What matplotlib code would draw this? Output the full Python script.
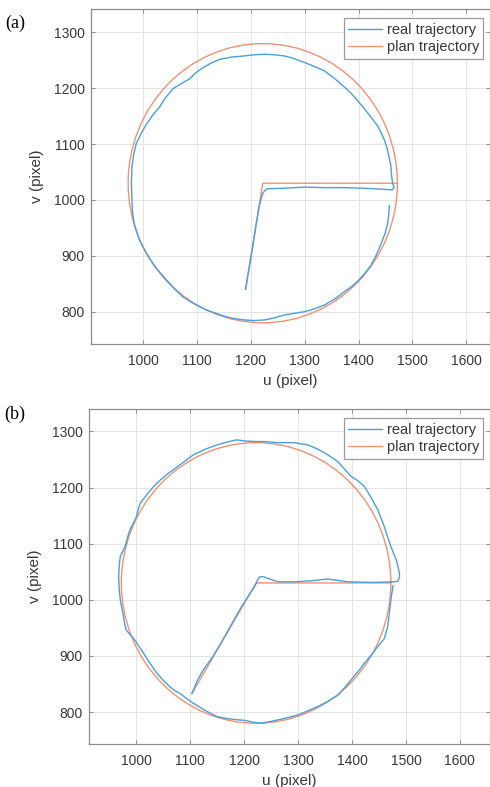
import matplotlib
matplotlib.use("Agg")
import matplotlib.pyplot as plt
from matplotlib.patches import Circle

# ---------------- data ----------------
# panel (a)
real_a_u = [1190, 1197, 1204, 1210, 1216, 1219, 1222, 1226, 1230, 1262, 1300, 1337, 1374, 1410,
            1448, 1462, 1466, 1463, 1461, 1460, 1457, 1453, 1448, 1442, 1435, 1423, 1411, 1398,
            1386, 1374, 1356, 1337, 1318, 1300, 1281, 1262, 1244, 1225, 1206, 1188, 1165, 1142,
            1126, 1111, 1098, 1086, 1070, 1055, 1042, 1030, 1017, 1006, 996, 987, 982, 979, 978,
            979, 980, 983, 993, 1005, 1018, 1030, 1043, 1058, 1073, 1089, 1104, 1120, 1135, 1150,
            1166, 1188, 1206, 1225, 1244, 1262, 1281, 1300, 1318, 1337, 1356, 1374, 1387, 1398,
            1411, 1423, 1433, 1442, 1449, 1454, 1456, 1457]
real_a_v = [840, 880, 920, 958, 992, 1002, 1012, 1017, 1020, 1021, 1023, 1022, 1022, 1021,
            1019, 1018, 1022, 1030, 1045, 1060, 1075, 1092, 1107, 1120, 1133, 1148, 1163, 1178,
            1191, 1202, 1217, 1231, 1239, 1246, 1253, 1258, 1260, 1261, 1260, 1258, 1256, 1252,
            1245, 1237, 1228, 1217, 1208, 1199, 1184, 1166, 1151, 1136, 1119, 1101, 1080, 1059, 1030,
            1000, 980, 958, 928, 906, 886, 871, 857, 841, 827, 817, 809, 802, 797, 792,
            788, 785, 784, 785, 789, 794, 797, 800, 805, 812, 823, 836, 845, 854,
            868, 883, 902, 922, 940, 958, 975, 990]
plan_a_u = [1190, 1222, 1472]
plan_a_v = [840, 1030, 1030]
circle_a = (1222, 1030, 250)   # centre u, centre v, radius

# panel (b)
real_b_u = [1103, 1113, 1124, 1133, 1142, 1155, 1167, 1186, 1201, 1210, 1219, 1225, 1229, 1236,
            1244, 1263, 1294, 1325, 1355, 1392, 1435, 1478, 1485, 1488, 1488, 1485, 1482, 1477,
            1472, 1466, 1460, 1454, 1448, 1436, 1423, 1411, 1398, 1386, 1374, 1362, 1349, 1333,
            1318, 1305, 1294, 1278, 1263, 1250, 1238, 1220, 1201, 1186, 1168, 1149, 1127, 1105,
            1080, 1056, 1044, 1032, 1019, 1007, 1003, 1000, 994, 988, 983, 979, 974, 970, 968,
            967, 968, 970, 973, 976, 978, 981, 988, 995, 1004, 1013, 1025, 1038, 1050, 1062,
            1071, 1081, 1093, 1105, 1127, 1149, 1164, 1179, 1201, 1216, 1232, 1248, 1263, 1281,
            1300, 1318, 1337, 1355, 1374, 1386, 1398, 1411, 1423, 1436, 1448, 1460, 1466, 1469,
            1472, 1476]
real_b_v = [833, 856, 875, 887, 899, 920, 940, 973, 997, 1010, 1023, 1036, 1041, 1041,
            1038, 1032, 1032, 1034, 1037, 1032, 1031, 1032, 1033, 1040, 1047, 1060, 1071, 1083,
            1095, 1112, 1130, 1145, 1160, 1181, 1202, 1212, 1220, 1233, 1246, 1254, 1262, 1270,
            1276, 1278, 1280, 1280, 1280, 1281, 1282, 1282, 1283, 1285, 1281, 1276, 1268, 1258,
            1240, 1223, 1213, 1202, 1187, 1172, 1160, 1148, 1136, 1125, 1110, 1095, 1085, 1077, 1060,
            1041, 1020, 1000, 985, 970, 958, 946, 938, 931, 918, 905, 887, 869, 856, 845,
            838, 833, 824, 816, 803, 792, 789, 787, 785, 782, 780, 783, 786, 790,
            795, 802, 810, 819, 830, 843, 857, 872, 887, 902, 917, 931, 952, 975,
            1000, 1025]
plan_b_u = [1103, 1222, 1472]
plan_b_v = [833, 1030, 1030]
circle_b = (1222, 1030, 250)

xticks = [1000, 1100, 1200, 1300, 1400, 1500, 1600]
yticks = [800, 900, 1000, 1100, 1200, 1300]
xlim_a, ylim_a = (903, 1643), (742, 1342)
xlim_b, ylim_b = (912, 1655), (743, 1340)
labels = ["real trajectory", "plan trajectory"]

# ---------------- style ----------------
BLUE = "#4a9fdc"
ORANGE = "#ef9272"
TXT = "#383838"
SPINE = "#8c8c8c"
plt.rcParams["font.family"] = ["Liberation Sans", "DejaVu Sans"]

W, H = 490, 787
fig = plt.figure(figsize=(W / 100, H / 100), dpi=100)


def make_axes(l, t, r, b):
    return fig.add_axes([l / W, 1 - b / H, (r - l) / W, (b - t) / H])


def style(ax, xlim, ylim):
    ax.set_xlim(*xlim)
    ax.set_ylim(*ylim)
    ax.set_xticks(xticks)
    ax.set_yticks(yticks)
    ax.grid(True, color="#e4e4e4", linewidth=0.7)
    ax.set_axisbelow(True)
    for s in ax.spines.values():
        s.set_color(SPINE)
        s.set_linewidth(0.9)
    ax.tick_params(axis="both", direction="in", length=3, width=0.7, color=SPINE,
                   top=True, right=True, labelsize=10, labelcolor=TXT)
    ax.tick_params(axis="x", pad=7.5)
    ax.tick_params(axis="y", pad=4.5)
    ax.set_xlabel("u (pixel)", fontsize=11, color=TXT, labelpad=4)
    ax.set_ylabel("v (pixel)", fontsize=11, color=TXT, labelpad=7)


def draw(ax, ru, rv, pu, pv, circ, xlim, ylim):
    ax.plot(ru, rv, color=BLUE, lw=1.0, label=labels[0], zorder=3)
    ax.plot(pu, pv, color=ORANGE, lw=1.0, label=labels[1], zorder=2)
    ax.add_patch(Circle((circ[0], circ[1]), circ[2], fill=False, edgecolor=ORANGE,
                        lw=1.0, zorder=2))
    style(ax, xlim, ylim)
    leg = ax.legend(loc="upper right", bbox_to_anchor=(0.9845, 0.972), borderaxespad=0,
                    fontsize=10.5, fancybox=False, framealpha=1, edgecolor="#9a9a9a",
                    handlelength=2.35, handletextpad=0.3, labelspacing=0.25,
                    borderpad=0.3)
    leg.get_frame().set_linewidth(0.9)
    for t in leg.get_texts():
        t.set_color(TXT)


ax1 = make_axes(91, 9, 489.5, 344)
draw(ax1, real_a_u, real_a_v, plan_a_u, plan_a_v, circle_a, xlim_a, ylim_a)
ax2 = make_axes(89, 409, 489.5, 744)
draw(ax2, real_b_u, real_b_v, plan_b_u, plan_b_v, circle_b, xlim_b, ylim_b)

fig.text(15 / W, 1 - 23 / H, "(a)", ha="center", va="center", fontsize=13,
         family=["Liberation Serif", "DejaVu Serif"], color="black")
fig.text(15 / W, 1 - 414 / H, "(b)", ha="center", va="center", fontsize=13,
         family=["Liberation Serif", "DejaVu Serif"], color="black")

fig.savefig("out.png", dpi=100)
